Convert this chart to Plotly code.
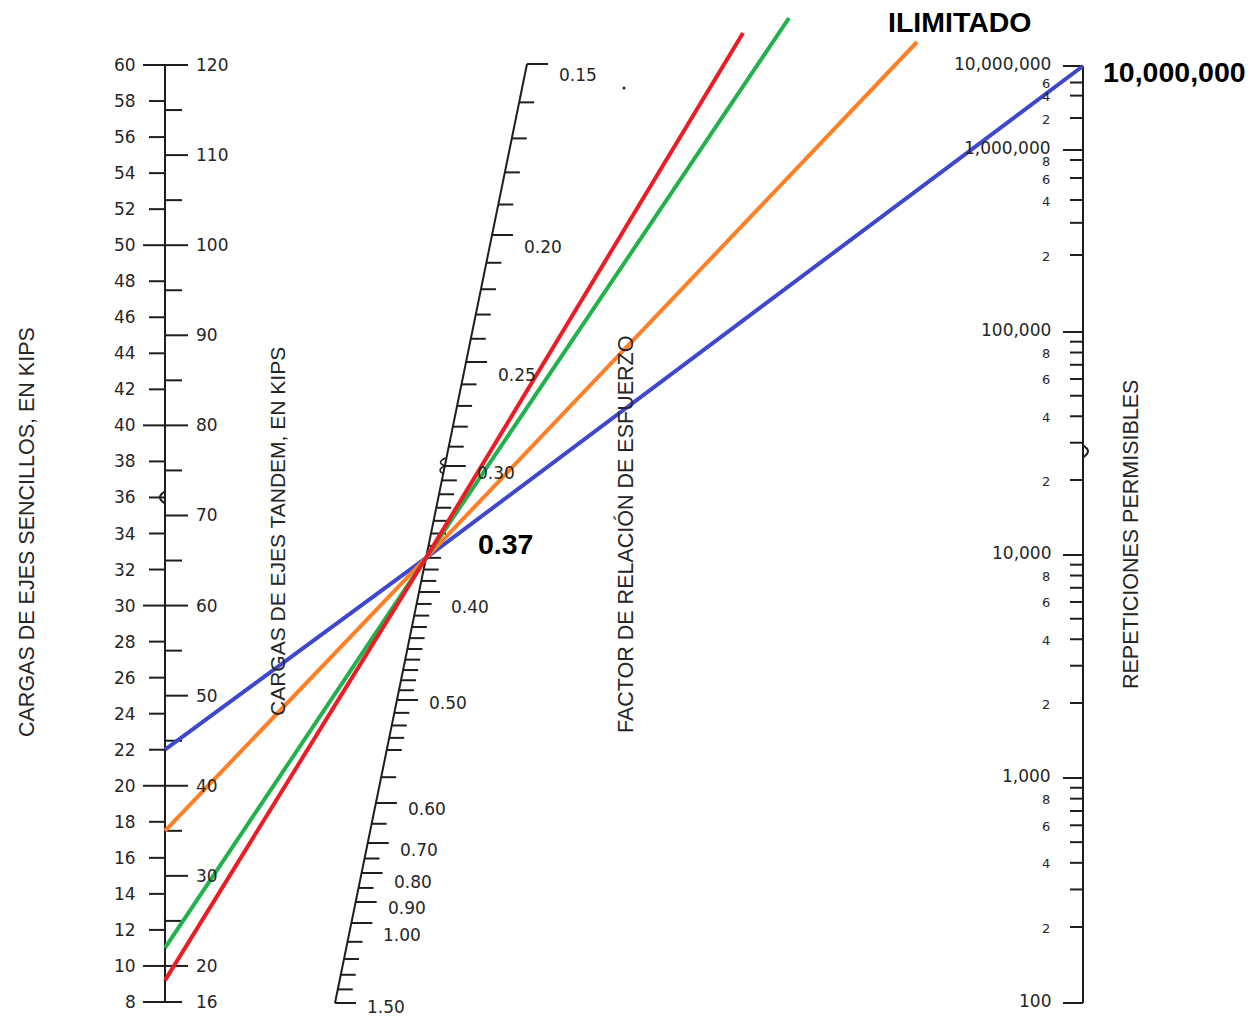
import math
import plotly.graph_objects as go

# ------------------------------------------------------------------ data
single_ticks = list(range(8, 61, 2))                 # single-axle loads (kips)
single_labels = list(range(8, 61, 2))
tandem_ticks = [16] + list(range(20, 121, 5))        # tandem-axle loads (kips)
tandem_labels = [16] + list(range(20, 121, 10))
sr_ticks = ([round(0.15 + 0.01 * i, 2) for i in range(36)] +
            [0.51, 0.52, 0.53, 0.54, 0.57, 0.60, 0.65, 0.70, 0.75, 0.80,
             0.85, 0.90, 1.00, 1.10, 1.20, 1.30, 1.40, 1.50])
sr_labels = [0.15, 0.20, 0.25, 0.30, 0.40, 0.50, 0.60, 0.70, 0.80, 0.90, 1.00, 1.50]
rep_decades = [100, 1000, 10000, 100000, 1000000, 10000000]
rep_minor = ([m * 100 for m in range(2, 10)] + [m * 1000 for m in range(2, 10)] +
             [m * 10000 for m in range(2, 10)] + [m * 100000 for m in (2, 3, 4, 6, 8)] +
             [m * 1000000 for m in (2, 4, 6)])
rep_minor_labels = ([m * 100 for m in (2, 4, 6, 8)] + [m * 1000 for m in (2, 4, 6, 8)] +
                    [m * 10000 for m in (2, 4, 6, 8)] + [m * 100000 for m in (2, 4, 6, 8)] +
                    [m * 1000000 for m in (2, 4, 6)])

line_loads = [22, 17.5, 11, 9.2]          # single-axle loads of the four lines
line_sr = 0.37                            # common stress-ratio point
line_reps = [10000000, None, None, None]  # blue ends at 10,000,000; others "ILIMITADO"
line_colors = ["#3f48cc", "#ff7f27", "#22b14c", "#ed1c24"]

# ------------------------------------------------------------------ nomograph scale layout
W, H = 1258, 1019
INK = "#1e1e1e"
LEFT_X, LEFT_TOP, LEFT_BOT = 165, 65, 1002        # single 60 .. 8
MID_TOP, MID_BOT = (527, 64), (335, 1003)
RIGHT_X = 1083
sr_anchor = [(0.15, 64), (0.20, 235), (0.25, 362), (0.30, 466), (0.40, 592),
             (0.50, 700), (0.54, 750), (0.60, 803), (0.70, 843), (0.80, 873),
             (0.90, 902), (1.00, 923), (1.50, 1003)]
sr_label_dy = [11, 12, 13, 7, 15, 3, 6, 7, 9, 6, 12, 4]
rep_anchor = [(100, 1003), (200, 927), (1000, 778), (2000, 703), (10000, 555),
              (20000, 480), (100000, 332), (200000, 255), (400000, 200),
              (600000, 178), (800000, 160), (1000000, 150), (2000000, 118),
              (10000000, 66)]
unlimited_end = {1: (917, 42), 2: (789, 18), 3: (743, 33)}
TICK_FONT = "DejaVu Sans"
TF = "Liberation Sans, Arial, sans-serif"


def logmap(v, anchors):
    for (a, ya), (b, yb) in zip(anchors[:-1], anchors[1:]):
        if a <= v <= b:
            f = math.log(v / a) / math.log(b / a)
            return ya + f * (yb - ya)
    raise ValueError(v)


def single_y(v):
    return LEFT_TOP + (60 - v) * (LEFT_BOT - LEFT_TOP) / 52.0


def tandem_y(v):
    return single_y(v / 2.0)


def mid_xy(v):
    y = logmap(v, sr_anchor)
    x = MID_TOP[0] + (MID_BOT[0] - MID_TOP[0]) * (y - MID_TOP[1]) / (MID_BOT[1] - MID_TOP[1])
    return x, y


def rep_y(v):
    return logmap(v, rep_anchor)


fig = go.Figure()
annots = []
shapes = []
segx, segy = [], []


def seg(x0, y0, x1, y1):
    segx.extend([x0, x1, None])
    segy.extend([y0, y1, None])


def lab(x, y, text, xanchor="center", size=17, family=TICK_FONT, bold=False, angle=0,
        color="#262626"):
    annots.append(dict(x=x, y=y, xref="x", yref="y", text=text, showarrow=False,
                       xanchor=xanchor, yanchor="middle", textangle=angle,
                       font=dict(family=family, size=size, color=color,
                                 weight="bold" if bold else "normal"),
                       borderpad=0))


# ---- left axis (single / tandem)
seg(LEFT_X, LEFT_TOP, LEFT_X, LEFT_BOT)
for v in single_ticks:
    y = single_y(v)
    if v % 10 == 0 or v == 8:
        seg(LEFT_X - 22, y, LEFT_X, y)
    else:
        seg(LEFT_X - 16, y, LEFT_X, y)
for v in single_labels:
    lab(LEFT_X - 28, single_y(v), str(v), xanchor="right", size=17)
for v in tandem_ticks:
    y = tandem_y(v)
    if v % 10 == 0:
        seg(LEFT_X, y, LEFT_X + 23, y)
    else:
        seg(LEFT_X, y, LEFT_X + 17, y)
for v in tandem_labels:
    lab(LEFT_X + 30, tandem_y(v), str(v), xanchor="left", size=17)

# ---- middle axis (stress ratio)
x0, y0 = mid_xy(sr_ticks[0])
x1, y1 = mid_xy(sr_ticks[-1])
seg(x0, y0, x1, y1)
for v in sr_ticks:
    x, y = mid_xy(v)
    ln = 21 if any(abs(v - s) < 1e-9 for s in sr_labels) else 15
    seg(x, y, x + ln, y)
for v, dy in zip(sr_labels, sr_label_dy):
    x, y = mid_xy(v)
    lab(x + 31, y + dy, f"{v:.2f}", xanchor="left", size=17)

# ---- right axis (repetitions)
seg(RIGHT_X, rep_y(100), RIGHT_X, rep_y(10000000))
for v in rep_decades:
    y = rep_y(v)
    seg(RIGHT_X - 20, y, RIGHT_X, y)
    lab(RIGHT_X - 31, y - 2, f"{v:,}", xanchor="right", size=17)
for v in rep_minor:
    y = rep_y(v)
    seg(RIGHT_X - 13, y, RIGHT_X, y)
for v in rep_minor_labels:
    y = rep_y(v)
    d = str(int(v / 10 ** int(math.floor(math.log10(v)))))
    lab(RIGHT_X - 32, y + 1, d, xanchor="right", size=13)

fig.add_trace(go.Scatter(x=segx, y=segy, mode="lines", line=dict(color=INK, width=2),
                         hoverinfo="skip", showlegend=False))

# break marks
ys = single_y(36)
shapes.append(dict(type="path", xref="x", yref="y",
                   path=f"M {LEFT_X} {ys-6} Q {LEFT_X-10} {ys} {LEFT_X} {ys+6}",
                   line=dict(color=INK, width=2)))
yr = (rep_y(30000) + rep_y(20000)) / 2 - 10
shapes.append(dict(type="path", xref="x", yref="y",
                   path=f"M {RIGHT_X} {yr-6} Q {RIGHT_X+10} {yr} {RIGHT_X} {yr+6}",
                   line=dict(color=INK, width=2)))
bx, by = mid_xy(0.30)
shapes.append(dict(type="path", xref="x", yref="y",
                   path=f"M {bx+1} {by-8} Q {bx-9} {by-4} {bx} {by} Q {bx-9} {by+4} {bx-1} {by+8}",
                   line=dict(color=INK, width=1.5)))

# ---- the four load lines
px, py = mid_xy(line_sr)
for i, (load, rep, col) in enumerate(zip(line_loads, line_reps, line_colors)):
    lx, ly = LEFT_X, single_y(load)
    if rep is not None:
        ex, ey = RIGHT_X, rep_y(rep)
    else:
        ex, ey = unlimited_end[i]
    fig.add_trace(go.Scatter(x=[lx, px, ex], y=[ly, py, ey], mode="lines",
                             line=dict(color=col, width=4), hoverinfo="skip",
                             showlegend=False))

# stray dot from the original scan
fig.add_trace(go.Scatter(x=[624], y=[88], mode="markers",
                         marker=dict(size=3, color=INK), hoverinfo="skip", showlegend=False))

# ---- titles
lab(27, 532, "CARGAS DE EJES SENCILLOS, EN KIPS", angle=-90, size=21.5, family=TF)
lab(277, 532, "CARGAS DE EJES TANDEM, EN KIPS", angle=-90, size=21, family=TF)
lab(625, 535, "FACTOR DE RELACIÓN DE ESFUERZO", angle=-90, size=21.5, family=TF)
lab(1131, 535, "REPETICIONES PERMISIBLES", angle=-90, size=21.5, family=TF)
lab(960, 22, "ILIMITADO", size=28.5, family=TF, bold=True, color="#000")
lab(1174, 72, "10,000,000", size=28.5, family=TF, bold=True, color="#000")
lab(505, 544, "0.37", size=28.5, family=TF, bold=True, color="#000")

fig.update_layout(
    width=W, height=H, autosize=False,
    margin=dict(l=0, r=0, t=0, b=0, pad=0),
    paper_bgcolor="white", plot_bgcolor="white",
    xaxis=dict(range=[0, W], visible=False, fixedrange=True),
    yaxis=dict(range=[H, 0], visible=False, fixedrange=True),
    annotations=annots, shapes=shapes,
)
fig.write_html("out.html")
